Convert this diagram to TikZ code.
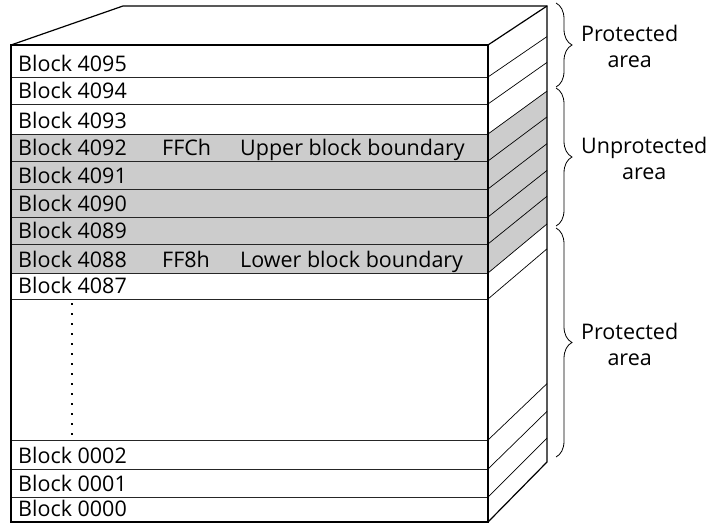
\documentclass[tikz,border=0pt]{standalone}
\usepackage{fontspec}
\setmainfont{Open Sans}
\usetikzlibrary{decorations.pathreplacing}
\begin{document}
\begin{tikzpicture}[x=1pt,y=-1pt,
  lbl/.style={anchor=base west, inner sep=0pt, font=\fontsize{21.5}{26}\selectfont},
  side/.style={align=center, anchor=west, inner sep=0pt, font=\fontsize{21.5}{26}\selectfont},
  shade/.style={fill=black!20},
  frame/.style={line width=1.2pt, line join=miter},
  rule/.style={line width=0.9pt, black!85},
  diag/.style={line width=0.7pt},
  brc/.style={line width=0.8pt, decorate, decoration={brace, amplitude=16pt, aspect=0.5}}]
\useasboundingbox (0,0) rectangle (711,525);
% shaded rows (front and side)
\fill[shade] (11,134) rectangle (488,273);
\fill[shade] (488,134) -- (547,91.1) -- (547,224) -- (488,273) -- cycle;
% horizontal rules of the front face
\foreach \y in {77,104,134,161,189,217,244,273,299,440,469,497}
  \draw[rule] (11,\y) -- (488,\y);
% diagonals of the side face
\foreach \y in {77,104,134,161,189,217,244,273,299,440,469,497}{
  \pgfmathsetmacro{\by}{6+(\y-45)*0.956}
  \draw[diag] (488,\y) -- (547,\by);
}
% outline
\draw[frame] (11,45) rectangle (488,522);
\draw[frame] (11,45) -- (123,6) -- (547,6) -- (547,462) -- (488,522);
\draw[frame] (488,45) -- (547,6);
% dots
\foreach \i in {0,...,13}
  \fill (71,303+10*\i) rectangle ++(2.4,2.4);
% labels
\node[lbl] (b4095) at (18,71) {Block 4095};
\node[lbl] (b4094) at (18,98) {Block 4094};
\node[lbl] (b4093) at (18,128) {Block 4093};
\node[lbl] (b4092) at (18,155) {Block 4092};
\node[lbl] (b4091) at (18,183) {Block 4091};
\node[lbl] (b4090) at (18,211) {Block 4090};
\node[lbl] (b4089) at (18,238) {Block 4089};
\node[lbl] (b4088) at (18,267) {Block 4088};
\node[lbl] (b4087) at (18,293) {Block 4087};
\node[lbl] (b0002) at (18,463) {Block 0002};
\node[lbl] (b0001) at (18,491) {Block 0001};
\node[lbl] (b0000) at (18,516) {Block 0000};
\node[lbl] (ffc) at (162,155) {FFCh};
\node[lbl] (ub) at (240,155) {Upper block boundary};
\node[lbl] (ff8) at (162,267) {FF8h};
\node[lbl] (lb) at (240,267) {Lower block boundary};
% braces
\coordinate (p1t) at (556,3);
\coordinate (p1b) at (556,87);
\coordinate (u1t) at (556,88);
\coordinate (u1b) at (556,226);
\coordinate (p2t) at (556,228);
\coordinate (p2b) at (556,457);
\draw[brc] (p1t) -- (p1b);
\draw[brc] (u1t) -- (u1b);
\draw[brc] (p2t) -- (p2b);
\node[side] (pa1) at (581,46) {Protected\\area};
\node[side] (ua) at (581,158) {Unprotected\\area};
\node[side] (pa2) at (581,344) {Protected\\area};
\end{tikzpicture}
\end{document}
